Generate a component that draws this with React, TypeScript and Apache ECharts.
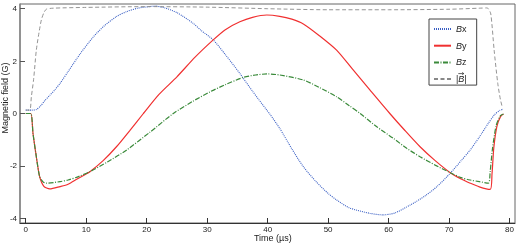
import React, { useEffect, useRef } from "react";
import * as echarts from "echarts";

const FONT = "Liberation Sans, Arial, sans-serif";

const xTicks = [0, 10, 20, 30, 40, 50, 60, 70, 80];
const yTicks = [-4, -2, 0, 2, 4];

const bxT = [0, 1.0, 1.75, 2.5, 3.1, 4.0, 4.8, 5.67, 7.0, 9, 11.2, 13, 15, 16.7, 18.5, 20.5, 21.4, 23, 25, 27.7, 29, 31, 33, 35.4, 37.5, 39.85, 40.3, 42, 44, 45.9, 48, 50, 51.4, 53.5, 56.9, 59.1, 61, 63.6, 66, 68, 70.2, 72, 73.5, 75, 76.5, 77.5, 78.4, 78.9];
const bxV = [0.13, 0.13, 0.15, 0.3, 0.48, 0.7, 0.9, 1.15, 1.6, 2.28, 2.93, 3.35, 3.7, 3.89, 4.02, 4.08, 4.1, 4.03, 3.85, 3.44, 3.17, 2.81, 2.25, 1.53, 0.85, 0.13, 0.0, -0.57, -1.35, -2.03, -2.6, -3.05, -3.3, -3.6, -3.81, -3.87, -3.8, -3.49, -3.15, -2.79, -2.28, -1.8, -1.39, -0.9, -0.37, -0.05, 0.12, 0.16];

const byT = [0, 0.83, 1.2, 1.75, 2.3, 3.0, 3.97, 5.67, 7.0, 8.5, 10.6, 12.8, 15, 17.2, 19.45, 22, 25, 28, 31, 33, 35.4, 37.5, 39.85, 42, 44, 45.9, 48.5, 51.4, 54, 56.9, 60.2, 62.7, 65.2, 67.7, 70.2, 72, 73.5, 75, 76.8, 77.1, 77.4, 77.9, 78.5, 79.0];
const byV = [0, 0, -0.76, -1.65, -2.41, -2.78, -2.88, -2.79, -2.7, -2.5, -2.22, -1.8, -1.27, -0.65, 0.0, 0.72, 1.4, 2.15, 2.81, 3.2, 3.5, 3.67, 3.76, 3.71, 3.6, 3.42, 2.98, 2.42, 1.7, 0.9, 0.0, -0.65, -1.27, -1.8, -2.26, -2.5, -2.66, -2.8, -2.9, -2.3, -1.3, -0.5, -0.12, -0.02];

const bzT = [0, 0.83, 1.2, 1.75, 2.3, 2.9, 3.4, 5.67, 7.0, 8.8, 10.6, 13.5, 16.7, 20.5, 24.4, 27.5, 30.5, 33, 36, 38, 40, 42, 45.9, 48.5, 51.4, 53.5, 55.3, 58, 60.8, 63, 65.2, 67.7, 70.2, 72, 73.5, 75, 76.5, 76.8, 77.2, 77.8, 78.5, 79.0];
const bzV = [0, 0, -0.76, -1.65, -2.41, -2.62, -2.66, -2.6, -2.54, -2.4, -2.22, -1.85, -1.39, -0.72, 0.0, 0.45, 0.83, 1.1, 1.38, 1.47, 1.51, 1.47, 1.28, 1.0, 0.64, 0.3, 0.0, -0.5, -0.95, -1.33, -1.65, -1.97, -2.26, -2.45, -2.54, -2.6, -2.66, -2.2, -1.3, -0.45, -0.08, -0.02];

const bmT = [0, 0.66, 0.93, 1.3, 1.75, 2.2, 2.58, 3.0, 3.4, 4.5, 10, 20, 30, 40, 50, 60, 70, 75, 76.2, 76.5, 76.9, 77.45, 78.05, 78.5, 78.85];
const bmV = [0.13, 0.13, 0.64, 1.3, 2.42, 3.1, 3.57, 3.85, 3.98, 4.02, 4.05, 4.08, 4.06, 4.0, 3.96, 3.96, 3.98, 4.02, 4.03, 4.0, 3.8, 2.42, 1.15, 0.52, 0.2];

const seriesNames = ["Bx", "By", "Bz", "|B|"];
const legendLabels = ["{i|B}x", "{i|B}y", "{i|B}z", "|{i|B}|"];

const pairs = (t: number[], v: number[]) => t.map((x, i) => [x, v[i]]);

export default function App() {
  const ref = useRef<HTMLDivElement>(null);
  useEffect(() => {
    if (!ref.current) return;
    const chart = echarts.init(ref.current, null, { renderer: "svg" });
    const labelStyle = { fontFamily: FONT, fontSize: 8, color: "#222" };
    const line = (name: string, t: number[], v: number[], color: string, width: number, type: any) => ({
      name,
      type: "line",
      symbol: "none",
      smooth: 0.25,
      data: pairs(t, v),
      lineStyle: { color, width, type },
      itemStyle: { color },
    });
    chart.setOption({
      animation: false,
      grid: {
        left: 20,
        top: 4,
        width: 495,
        height: 219,
        show: true,
        borderColor: "#666",
        borderWidth: 1,
      },
      xAxis: {
        type: "value",
        min: -0.95,
        max: 80.9,
        splitLine: { show: false },
        axisLine: { onZero: false, lineStyle: { color: "#333", width: 1 } },
        axisTick: { inside: true, length: 5, customValues: xTicks, lineStyle: { color: "#333" } },
        axisLabel: { customValues: xTicks, margin: 2, ...labelStyle },
      },
      yAxis: {
        type: "value",
        min: -4.18,
        max: 4.18,
        splitLine: { show: false },
        axisLine: { onZero: false, lineStyle: { color: "#888", width: 1.5 } },
        axisTick: { inside: true, length: 5, customValues: yTicks, lineStyle: { color: "#555" } },
        axisLabel: { customValues: yTicks, margin: 3, ...labelStyle },
      },
      legend: {
        orient: "vertical",
        left: 429,
        top: 19,
        padding: [5, 10, 1, 4],
        itemWidth: 17,
        itemHeight: 10,
        itemGap: 6.7,
        borderColor: "#444",
        borderWidth: 1,
        itemStyle: { opacity: 0 },
        data: seriesNames,
        formatter: (name: string) => legendLabels[seriesNames.indexOf(name)],
        textStyle: {
          fontFamily: FONT,
          fontSize: 9,
          lineHeight: 10,
          color: "#222",
          rich: { i: { fontStyle: "italic", fontFamily: FONT, fontSize: 9, lineHeight: 10, color: "#222" } },
        },
      },
      graphic: [
        {
          type: "text",
          x: 5,
          y: 98,
          rotation: Math.PI / 2,
          style: {
            text: "Magnetic field (G)",
            fontFamily: FONT,
            fontSize: 9,
            fill: "#222",
            textAlign: "center",
            textVerticalAlign: "middle",
          },
        },
        {
          type: "text",
          x: 272.8,
          y: 238.3,
          style: {
            text: "Time (\u00B5s)",
            fontFamily: FONT,
            fontSize: 9,
            fill: "#222",
            textAlign: "center",
            textVerticalAlign: "middle",
          },
        },
        {
          type: "line",
          shape: { x1: 458.3, y1: 73.6, x2: 463.6, y2: 73.6 },
          style: { stroke: "#222", lineWidth: 0.7 },
        },
        {
          type: "polyline",
          shape: { points: [[462.2, 72.4], [463.8, 73.6], [462.2, 74.8]] },
          style: { stroke: "#222", lineWidth: 0.7, fill: null },
        },
      ],
      series: [
        line("Bx", bxT, bxV, "#3a5fc4", 1.1, [1, 1]),
        line("By", byT, byV, "#f03030", 1.2, "solid"),
        line("Bz", bzT, bzV, "#3a8a3a", 1.2, [5, 1.5, 1, 1.5]),
        line("|B|", bmT, bmV, "#888", 0.9, [4, 2.5]),
      ],
    });
    return () => chart.dispose();
  }, []);
  return (
    <div
      ref={ref}
      style={{ position: "fixed", left: 0, top: 0, width: 520, height: 244 }}
    />
  );
}
